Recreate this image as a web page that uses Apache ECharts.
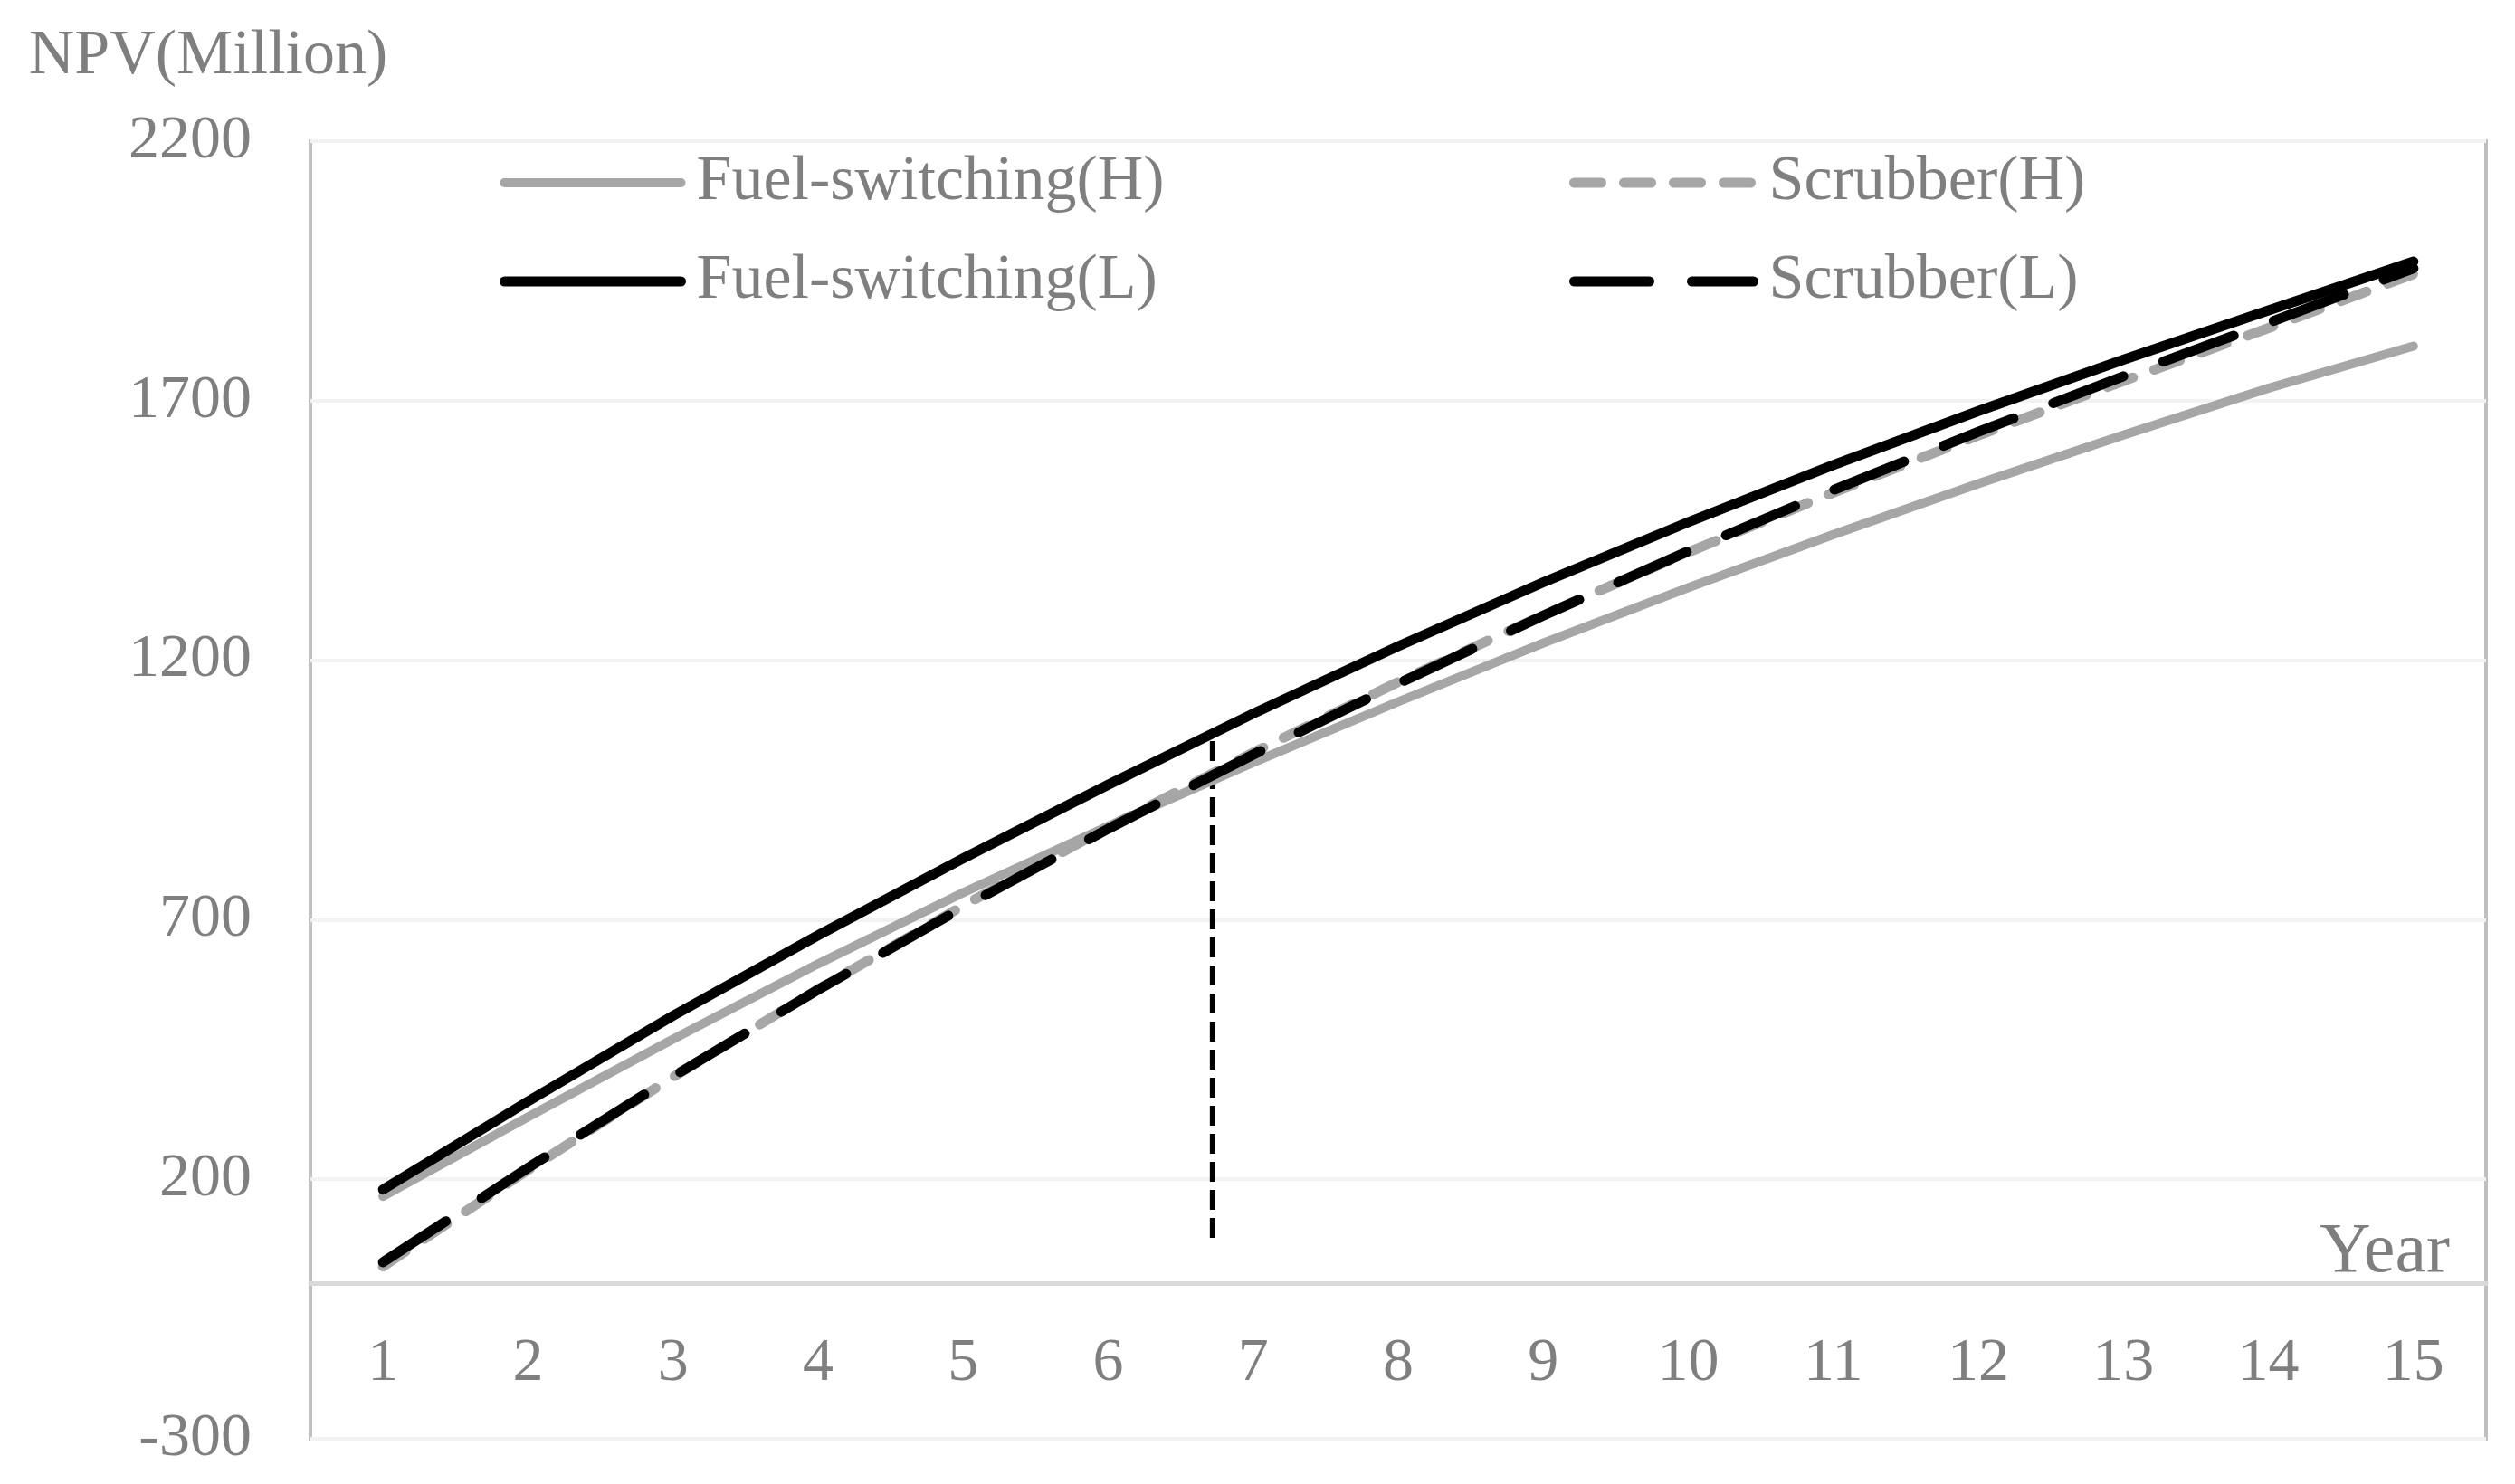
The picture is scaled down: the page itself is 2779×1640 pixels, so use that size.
<!DOCTYPE html>
<html>
<head>
<meta charset="utf-8">
<title>NPV by year</title>
<script src="https://cdn.jsdelivr.net/npm/echarts@6/dist/echarts.min.js"></script>
<style>
  html, body { margin: 0; padding: 0; background: #fff; }
  #chart { width: 2779px; height: 1640px; }
</style>
</head>
<body>
<div id="chart"></div>
<script>
// values (NPV, million)
const years = ['1', '2', '3', '4', '5', '6', '7', '8', '9', '10', '11', '12', '13', '14', '15'];
const fuelSwitchingH = [167, 320, 470, 615, 752, 880, 1003, 1120, 1233, 1340, 1442, 1540, 1634, 1724, 1805];
const scrubberH      = [32, 218, 397, 566, 727, 878, 1022, 1158, 1287, 1408, 1523, 1633, 1738, 1840, 1944];
const fuelSwitchingL = [180, 350, 515, 670, 818, 960, 1097, 1227, 1350, 1466, 1576, 1680, 1779, 1874, 1968];
const scrubberL      = [40, 222, 398, 565, 724, 875, 1018, 1155, 1286, 1410, 1528, 1640, 1747, 1850, 1955];

// payback marker: vertical dotted line at year ~6.7
const cutYear = 6.72;
const cutRange = [87, 1058];

const yTicks = { min: -300, max: 2200, step: 500 };

const FONT = "'Liberation Serif', 'Times New Roman', serif";
const GREY_TEXT = '#7f7f7f';
const LIGHT = '#a6a6a6';

// plot box (px)
const GRID = { left: 343, right: 32, top: 156, bottom: 50 };
const plotH = 1640 - GRID.top - GRID.bottom;
// the category axis sits on the zero line: lift it from the bottom edge
const zeroOffset = -plotH * (0 - yTicks.min) / (yTicks.max - yTicks.min);

// one style per series, shared by the plot and its legend entry
const styles = {
    'Fuel-switching(H)': { color: LIGHT, width: 10, type: 'solid' },
    'Scrubber(H)':       { color: LIGHT, width: 11, type: [30, 25] },
    'Fuel-switching(L)': { color: '#000', width: 11, type: 'solid' },
    'Scrubber(L)':       { color: '#000', width: 11, type: [83, 47] },
};

const chart = echarts.init(document.getElementById('chart'));

function lineStyleOf(name) {
    const s = styles[name];
    return { color: s.color, width: s.width, type: s.type, cap: 'round', join: 'round' };
}

function lineSeries(name, data) {
    return {
        name: name,
        type: 'line',
        data: data,
        symbol: 'none',
        showSymbol: false,
        smooth: false,
        lineStyle: lineStyleOf(name),
        itemStyle: { color: styles[name].color },
        emphasis: { disabled: true },
    };
}

function legendItem(name) {
    return { name: name, lineStyle: lineStyleOf(name), itemStyle: { opacity: 0 } };
}

const legendText = { color: GREY_TEXT, fontFamily: FONT, fontSize: 70, lineHeight: 70, padding: [0, 0, 0, 12] };

chart.setOption({
    animation: false,
    backgroundColor: '#fff',
    textStyle: { fontFamily: FONT },
    grid: Object.assign({
        containLabel: false, outerBoundsMode: 'none',
        show: true, borderColor: '#bfbfbf', borderWidth: 4, backgroundColor: 'transparent',
    }, GRID),
    legend: [
        {
            orient: 'vertical', left: 547, top: 162, itemWidth: 195, itemHeight: 20, itemGap: 39,
            data: ['Fuel-switching(H)', 'Fuel-switching(L)'].map(legendItem),
            itemStyle: { opacity: 0 },
            textStyle: legendText, selectedMode: false,
        },
        {
            orient: 'vertical', left: 1729, top: 162, itemWidth: 198, itemHeight: 20, itemGap: 39,
            data: ['Scrubber(H)', 'Scrubber(L)'].map(legendItem),
            itemStyle: { opacity: 0 },
            textStyle: legendText, selectedMode: false,
        },
    ],
    xAxis: [
        {
            type: 'category',
            data: years,
            boundaryGap: true,
            offset: zeroOffset,
            name: 'Year',
            nameLocation: 'end',
            nameGap: -40,
            nameTextStyle: { color: GREY_TEXT, fontSize: 78, lineHeight: 66, align: 'right', verticalAlign: 'bottom', fontFamily: FONT },
            axisLine: { onZero: false, lineStyle: { color: '#d9d9d9', width: 5 } },
            axisTick: { show: false },
            axisLabel: { color: GREY_TEXT, fontSize: 68, margin: 55, fontFamily: FONT },
            splitLine: { show: false },
        },
        {
            type: 'value', min: 0.5, max: 15.5, show: false,
        },
    ],
    yAxis: {
        type: 'value',
        min: yTicks.min, max: yTicks.max, interval: yTicks.step,
        name: 'NPV(Million)',
        nameLocation: 'end',
        nameGap: 58,
        nameTextStyle: { color: GREY_TEXT, fontSize: 70, align: 'center', padding: [0, 226, 0, 0], fontFamily: FONT },
        axisLine: { show: false },
        axisTick: { show: false },
        axisLabel: { color: GREY_TEXT, fontSize: 68, margin: 65, fontFamily: FONT, formatter: (v) => String(v) },
        splitLine: { lineStyle: { color: '#f2f2f2', width: 4 } },
    },
    series: [
        lineSeries('Fuel-switching(H)', fuelSwitchingH),
        lineSeries('Scrubber(H)', scrubberH),
        lineSeries('Fuel-switching(L)', fuelSwitchingL),
        lineSeries('Scrubber(L)', scrubberL),
        {
            name: 'payback',
            type: 'line',
            xAxisIndex: 1,
            data: [[cutYear, cutRange[0]], [cutYear, cutRange[1]]],
            symbol: 'none',
            lineStyle: { color: '#000', width: 6, type: [22, 9], cap: 'butt' },
            emphasis: { disabled: true },
            z: 1,
        },
    ],
});
</script>
</body>
</html>
